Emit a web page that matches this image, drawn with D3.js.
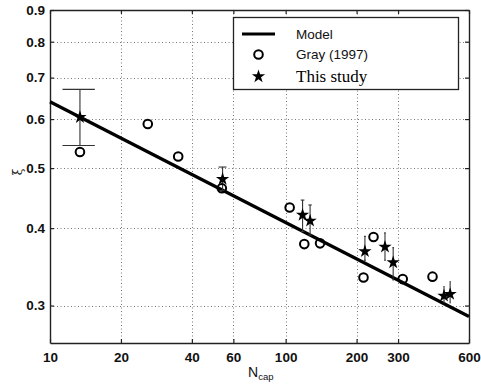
<!DOCTYPE html>
<html><head><meta charset="utf-8">
<script src="https://cdn.jsdelivr.net/npm/d3@7"></script>
<style>body{margin:0;background:#fff}svg{display:block}</style>
</head><body>
<script>
// ---- data ----
const xTicks = [10, 20, 40, 60, 100, 200, 300, 600];
const yTicks = [0.3, 0.4, 0.5, 0.6, 0.7, 0.8, 0.9];
const modelN  = [10, 600];
const modelXi = [0.640, 0.288];
const grayN  = [13.4, 26, 35, 53.6, 104, 120, 140, 214, 236, 314, 420];
const grayXi = [0.531, 0.589, 0.522, 0.464, 0.432, 0.377, 0.378, 0.333, 0.387, 0.331, 0.334];
const studyN  = [13.4, 54, 118, 127, 217, 264, 286, 470, 499];
const studyXi = [0.604, 0.480, 0.420, 0.411, 0.367, 0.373, 0.352, 0.311, 0.313];
const studyHi = [0.670, 0.502, 0.444, 0.436, 0.388, 0.393, 0.372, 0.322, 0.328];
const studyLo = [0.544, 0.460, 0.395, 0.390, 0.355, 0.355, 0.330, 0.303, 0.303];
const legendLabels = ["Model", "Gray (1997)", "This study"];

const W = 481, H = 385;
const svg = d3.select("body").append("svg").attr("width", W).attr("height", H);
const x = d3.scaleLog().domain([10, 600]).range([50, 469]);
const y = d3.scaleLog().domain([0.261, 0.9]).range([343, 10]);
const [x0, x1] = x.range(), [y0, y1] = y.range();

// grid
const grid = svg.append("g").attr("stroke", "#777").attr("stroke-width", 1).attr("stroke-dasharray", "1,2.5");
grid.selectAll(".vx").data(xTicks.slice(1, -1)).join("line")
  .attr("x1", d => Math.round(x(d)) + 0.5).attr("x2", d => Math.round(x(d)) + 0.5).attr("y1", y1).attr("y2", y0);
grid.selectAll(".hy").data(yTicks.slice(0, -1)).join("line")
  .attr("y1", d => Math.round(y(d)) + 0.5).attr("y2", d => Math.round(y(d)) + 0.5).attr("x1", x0).attr("x2", x1);

// axes
const fmt = d => String(d);
const font = "'Liberation Sans', Arial, sans-serif";
const gB = svg.append("g").attr("transform", `translate(0,${y0})`)
  .call(d3.axisBottom(x).tickValues(xTicks).tickFormat(fmt).tickSizeInner(-4).tickSizeOuter(0).tickPadding(9));
const gT = svg.append("g").attr("transform", `translate(0,${y1})`)
  .call(d3.axisTop(x).tickValues(xTicks).tickFormat("").tickSizeInner(-4).tickSizeOuter(0));
const gL = svg.append("g").attr("transform", `translate(${x0},0)`)
  .call(d3.axisLeft(y).tickValues(yTicks).tickFormat(d3.format(".1f")).tickSizeInner(-4).tickSizeOuter(0).tickPadding(5));
const gR = svg.append("g").attr("transform", `translate(${x1},0)`)
  .call(d3.axisRight(y).tickValues(yTicks).tickFormat("").tickSizeInner(-4).tickSizeOuter(0));
[gB, gT, gL, gR].forEach(g => {
  g.select(".domain").attr("stroke", "#222").attr("stroke-width", 1.4);
  g.selectAll(".tick line").attr("stroke", "#222").attr("stroke-width", 1.2);
  g.selectAll("text").attr("font-family", font).attr("font-size", 13.5).attr("fill", "#111").attr("font-weight", "bold");
});
gB.selectAll("text").attr("dy", "0.71em");

// model line
svg.append("path").datum(modelN.map((n, i) => [n, modelXi[i]]))
  .attr("d", d3.line().x(d => x(d[0])).y(d => y(d[1])))
  .attr("fill", "none").attr("stroke", "#000").attr("stroke-width", 3.2);

// error bars
const tee = 2.1;
const eb = svg.append("g").attr("stroke", "#333").attr("stroke-width", 1.1);
studyN.forEach((n, i) => {
  eb.append("line").attr("x1", x(n)).attr("x2", x(n)).attr("y1", y(studyHi[i])).attr("y2", y(studyLo[i]));
  [studyHi[i], studyLo[i]].forEach(v => eb.append("line")
    .attr("x1", x(n - tee)).attr("x2", x(n + tee)).attr("y1", y(v)).attr("y2", y(v)));
});

// gray circles
svg.append("g").selectAll("circle").data(grayN.map((n, i) => [n, grayXi[i]])).join("circle")
  .attr("cx", d => x(d[0])).attr("cy", d => y(d[1])).attr("r", 4.3)
  .attr("fill", "none").attr("stroke", "#000").attr("stroke-width", 2);

// stars
const star = d3.symbol().type(d3.symbolStar).size(55);
svg.append("g").selectAll("path").data(studyN.map((n, i) => [n, studyXi[i]])).join("path")
  .attr("d", star).attr("transform", d => `translate(${x(d[0])},${y(d[1])})`).attr("fill", "#000");

// legend
const lg = svg.append("g");
lg.append("rect").attr("x", 233.5).attr("y", 17.5).attr("width", 225).attr("height", 72)
  .attr("fill", "#fff").attr("stroke", "#222").attr("stroke-width", 1.3);
lg.append("line").attr("x1", 242).attr("x2", 275).attr("y1", 34).attr("y2", 34).attr("stroke", "#000").attr("stroke-width", 3.2);
lg.append("circle").attr("cx", 258.5).attr("cy", 54.5).attr("r", 4.3).attr("fill", "none").attr("stroke", "#000").attr("stroke-width", 2);
lg.append("path").attr("d", star).attr("transform", "translate(258.5,76.5)").attr("fill", "#000");
lg.append("text").attr("x", 296).attr("y", 39).text(legendLabels[0]).attr("font-family", font).attr("font-size", 13.5).attr("fill", "#111");
lg.append("text").attr("x", 296).attr("y", 59).text(legendLabels[1]).attr("font-family", font).attr("font-size", 13.5).attr("fill", "#111");
lg.append("text").attr("x", 296).attr("y", 82).text(legendLabels[2]).attr("font-family", "'Liberation Serif', 'Times New Roman', serif").attr("font-size", 17).attr("fill", "#000");

// axis labels
const xl = svg.append("text").attr("x", 248).attr("y", 377).attr("font-family", font).attr("fill", "#111");
xl.append("tspan").attr("font-size", 14).text("N");
xl.append("tspan").attr("font-size", 9.5).attr("dy", 3).text("cap");
svg.append("text").attr("transform", "translate(22,172) rotate(-90)").attr("text-anchor", "middle")
  .attr("font-family", "'DejaVu Serif', serif").attr("font-size", 12).attr("fill", "#111").text("ξ");
</script>
</body></html>
